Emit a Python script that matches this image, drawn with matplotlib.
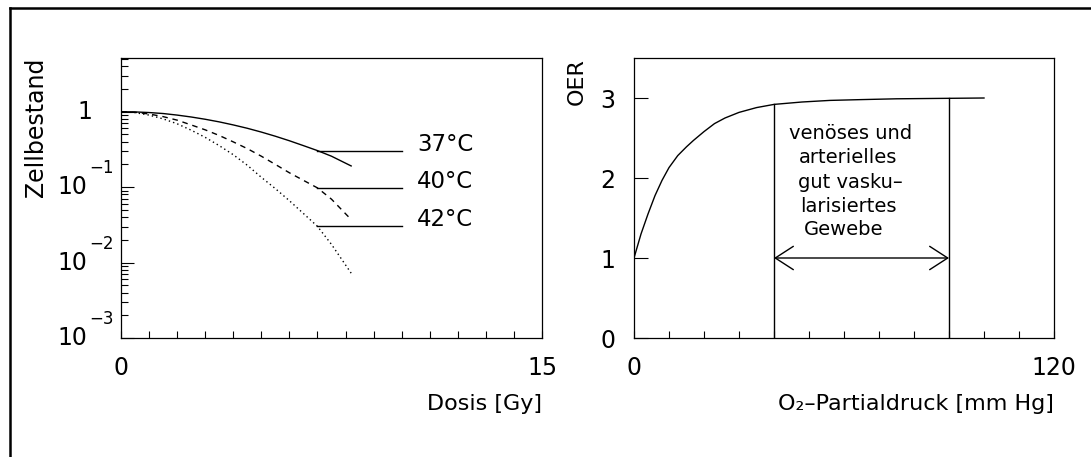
import matplotlib
matplotlib.use("Agg")
import matplotlib.pyplot as plt
import numpy as np
from matplotlib.lines import Line2D
from matplotlib.ticker import LogLocator, NullFormatter
from matplotlib.transforms import blended_transform_factory, offset_copy

# Zellüberleben nach Dosis
dosis = [0, 0.5, 1, 1.5, 2, 2.5, 3, 3.5, 4, 4.5, 5, 5.5, 6, 6.5, 7, 7.5, 8.2]
zell_37 = [1.0, 0.993, 0.975, 0.946, 0.902, 0.851, 0.794, 0.733, 0.668,
           0.603, 0.537, 0.473, 0.412, 0.355, 0.305, 0.257, 0.191]
zell_40 = [1.0, 0.982, 0.933, 0.861, 0.773, 0.668, 0.575, 0.484, 0.398,
           0.324, 0.257, 0.200, 0.155, 0.123, 0.0977, 0.0692, 0.0372]
zell_42 = [1.0, 0.973, 0.902, 0.804, 0.692, 0.569, 0.457, 0.355, 0.269,
           0.195, 0.135, 0.0955, 0.0661, 0.0447, 0.0302, 0.0174, 0.00724]

temperaturen = ["37°C", "40°C", "42°C"]
marken_niveau = [0.305, 0.0977, 0.0302]
marken_von, marken_bis = 7, 10

dosis_ticks = list(range(16))
dosis_ticklabels = ["0"] + [""] * 14 + ["15"]
zell_dekaden = [0, -1, -2, -3]

# OER gegen O2-Partialdruck
druck = [0, 2, 4, 6, 8, 10, 12.5, 15, 17, 20, 23, 26, 30, 35, 40, 48, 56, 65, 75, 100]
oer = [1.0, 1.30, 1.55, 1.78, 1.97, 2.13, 2.28, 2.39, 2.47, 2.58, 2.68, 2.75,
       2.82, 2.88, 2.92, 2.95, 2.97, 2.98, 2.99, 3.0]
bereich = [40, 90]
bereich_oer = [2.92, 3.0]

druck_ticks = list(range(0, 121, 10))
druck_ticklabels = ["0"] + [""] * 11 + ["120"]
oer_ticks = [0, 1, 2, 3]

gewebe_text = ["venöses und", "arterielles", "gut vasku–", "larisiertes", "Gewebe"]
gewebe_x = [61.8, 61.3, 61.8, 61.3, 60.0]
gewebe_y = [2.56, 2.255, 1.95, 1.65, 1.36]

plt.rcParams["font.family"] = ["DejaVu Sans"]
W, H = 1091, 457
fig = plt.figure(figsize=(W / 100, H / 100), dpi=100)
ax1 = fig.add_axes([121 / W, 119 / H, 421 / W, 280 / H])
ax2 = fig.add_axes([634 / W, 119 / H, 420 / W, 280 / H])

for ax in (ax1, ax2):
    for sp in ax.spines.values():
        sp.set_linewidth(0.9)

# --- linkes Bild ---
ax1.plot(dosis, zell_37, color="k", lw=1.0)
ax1.plot(dosis, zell_40, color="k", lw=1.0, linestyle=(0, (4, 3.5)))
ax1.plot(dosis, zell_42, color="k", lw=1.0, linestyle=(0, (1, 2.2)))
for name, lvl in zip(temperaturen, marken_niveau):
    ax1.plot([marken_von, marken_bis], [lvl, lvl], color="k", lw=1.0)
    ax1.text(10.55, lvl, name, fontsize=16.5, va="baseline", ha="left")

ax1.set_yscale("log")
ax1.set_xlim(0, 15)
ax1.set_ylim(1e-3, 10 ** 0.712)
ax1.set_xticks(dosis_ticks)
ax1.set_xticklabels(dosis_ticklabels)
ax1.tick_params(axis="x", direction="in", length=5, width=0.8, labelsize=17, pad=13)
ax1.yaxis.set_major_locator(LogLocator(base=10, numticks=10))
ax1.yaxis.set_minor_locator(LogLocator(base=10, subs=np.arange(2, 10), numticks=20))
ax1.yaxis.set_major_formatter(NullFormatter())
ax1.yaxis.set_minor_formatter(NullFormatter())
ax1.tick_params(axis="y", which="major", direction="in", length=9.5, width=0.8)
ax1.tick_params(axis="y", which="minor", direction="in", length=5, width=0.8)

trans = blended_transform_factory(ax1.transAxes, ax1.transData)
trans_exp = offset_copy(trans, fig=fig, x=0, y=19, units="dots")
for e in zell_dekaden:
    if e == 0:
        ax1.text(-0.068, 1.0, "1", transform=trans, fontsize=17, ha="right", va="center")
    else:
        ax1.text(-0.079, 10.0 ** e, "10", transform=trans, fontsize=17, ha="right", va="center")
        ax1.text(-0.076, 10.0 ** e, "−%d" % (-e), transform=trans_exp, fontsize=12,
                 ha="left", va="center")

ax1.set_xlabel("Dosis [Gy]", fontsize=16, loc="right", labelpad=10)
ax1.set_ylabel("Zellbestand", fontsize=17, loc="top")
ax1.yaxis.set_label_coords(-0.174, 1.0)

# --- rechtes Bild ---
ax2.plot(druck, oer, color="k", lw=1.0)
for x, top in zip(bereich, bereich_oer):
    ax2.plot([x, x], [0, top], color="k", lw=1.0)
ax2.annotate("", xy=(bereich[0], 1), xytext=(bereich[1], 1),
             arrowprops=dict(arrowstyle="<->,head_length=1.3,head_width=0.84",
                             lw=1.0, color="k", shrinkA=0, shrinkB=0, mutation_scale=10))
for t, x, y in zip(gewebe_text, gewebe_x, gewebe_y):
    ax2.text(x, y, t, fontsize=14, ha="center", va="center")

ax2.set_xlim(0, 120)
ax2.set_ylim(0, 3.5)
ax2.set_xticks(druck_ticks)
ax2.set_xticklabels(druck_ticklabels)
ax2.set_yticks(oer_ticks)
ax2.set_yticklabels([str(v) for v in oer_ticks])
ax2.tick_params(axis="x", direction="in", length=5, width=0.8, labelsize=17, pad=13)
ax2.tick_params(axis="y", direction="in", length=10, width=0.8, labelsize=17, pad=13.5)
ax2.set_xlabel("O₂–Partialdruck [mm Hg]", fontsize=16, loc="right", labelpad=10)
ax2.set_ylabel("OER", fontsize=16, loc="top")
ax2.yaxis.set_label_coords(-0.113, 1.0)

# Rahmen
fig.add_artist(Line2D([10 / W, 10 / W], [0, 1 - 7.5 / H], transform=fig.transFigure,
                      color="k", lw=1.8))
fig.add_artist(Line2D([10 / W, 1], [1 - 7.5 / H, 1 - 7.5 / H], transform=fig.transFigure,
                      color="k", lw=1.8))

fig.savefig("out.png", dpi=100)
